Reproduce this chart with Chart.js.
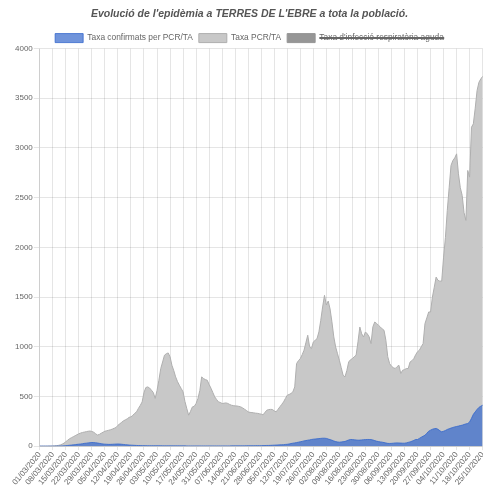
<!DOCTYPE html>
<html>
<head>
<meta charset="utf-8">
<script src="https://cdn.jsdelivr.net/npm/chart.js@4/dist/chart.umd.min.js"></script>
<style>
  html, body { margin: 0; padding: 0; background: #fff; overflow: hidden; }
  #wrap { width: 490px; height: 487px; }
</style>
</head>
<body>
<div id="wrap"><canvas id="grafic" width="490" height="487"></canvas></div>
<script>
// dies: de l'01/03/2020 fins al 25/10/2020
const startDate = '2020-03-01';
const numDays = 239;

// taxa confirmats per PCR/TA (una fila = una setmana)
const confirmats = [
  0, 0, 0, 0, 0, 0, 0,
  0, 0, 1, 1, 2, 2, 3,
  5, 7, 9, 11, 13, 15, 18,
  20, 22, 25, 28, 30, 33, 35,
  37, 36, 34, 32, 28, 25, 22,
  20, 19, 18, 18, 19, 20, 21,
  22, 21, 19, 17, 15, 13, 11,
  10, 9, 8, 7, 6, 6, 5,
  5, 5, 4, 4, 4, 4, 4,
  4, 4, 4, 3, 3, 3, 3,
  3, 3, 3, 3, 3, 3, 3,
  3, 3, 2, 2, 2, 2, 2,
  2, 2, 2, 2, 2, 2, 2,
  2, 2, 2, 2, 2, 2, 2,
  2, 2, 2, 2, 2, 3, 3,
  3, 3, 3, 3, 3, 3, 4,
  4, 4, 4, 4, 5, 5, 5,
  5, 6, 6, 7, 7, 8, 9,
  10, 11, 12, 13, 14, 15, 17,
  19, 22, 26, 30, 33, 36, 40,
  44, 48, 53, 56, 60, 63, 67,
  70, 72, 74, 76, 78, 80, 80,
  78, 72, 66, 60, 52, 46, 42,
  40, 42, 45, 47, 55, 62, 67,
  66, 64, 62, 60, 61, 63, 65,
  66, 67, 67, 66, 62, 56, 50,
  46, 43, 40, 36, 32, 28, 27,
  28, 30, 32, 33, 32, 31, 30,
  30, 33, 38, 43, 50, 58, 67,
  67, 78, 90, 100, 110, 130, 150,
  161, 170, 176, 178, 170, 155, 144,
  150, 158, 168, 175, 182, 188, 194,
  198, 202, 207, 211, 218, 224, 228,
  244, 280, 320, 345, 370, 390, 402,
  412
];

// taxa PCR/TA
const pcrTA = [
  0, 0, 0, 0, 0, 1, 1,
  2, 3, 5, 8, 12, 20, 30,
  45, 60, 75, 85, 95, 105, 115,
  125, 132, 138, 142, 146, 150, 152,
  148, 140, 125, 112, 118, 130, 140,
  150, 155, 160, 165, 172, 180, 188,
  210, 225, 240, 255, 265, 275, 290,
  295, 310, 330, 345, 380, 410, 445,
  540, 590, 596, 585, 563, 540, 480,
  560, 663, 780, 847, 915, 930, 938,
  900, 814, 760, 697, 650, 613, 580,
  546, 450, 379, 312, 350, 395, 400,
  430, 480, 560, 697, 680, 670, 663,
  620, 583, 540, 496, 470, 445, 440,
  429, 432, 435, 430, 420, 412, 408,
  405, 404, 400, 395, 385, 372, 360,
  345, 340, 338, 335, 332, 330, 326,
  322, 315, 340, 362, 368, 370, 369,
  355, 345, 370, 395, 420, 445, 480,
  513, 520, 530, 546, 596, 831, 860,
  881, 920, 965, 1040, 1116, 1000, 982,
  1048, 1065, 1082, 1150, 1266, 1400, 1518,
  1420, 1460, 1380, 1250, 1100, 998, 930,
  864, 790, 714, 697, 760, 847, 870,
  881, 900, 915, 1050, 1199, 1130, 1099,
  1149, 1130, 1100, 1032, 1200, 1249, 1235,
  1216, 1200, 1180, 1166, 1065, 900, 831,
  804, 790, 781, 800, 814, 731, 764,
  770, 781, 781, 847, 860, 881, 920,
  950, 965, 1000, 1032, 1233, 1290, 1350,
  1350, 1500, 1600, 1701, 1668, 1660, 1661,
  1902, 2100, 2372, 2600, 2824, 2874, 2900,
  2941, 2740, 2600, 2523, 2350, 2271, 2774,
  2707, 3209, 3243, 3400, 3578, 3661, 3695,
  3720
];

// taxa d'infecció respiratòria aguda (amagada a la llegenda)
const iras = [];

// etiquetes diàries dd/mm/aaaa
const labels = [];
const d0 = new Date(startDate + 'T12:00:00');
for (let i = 0; i < numDays; i++) {
  const d = new Date(d0.getTime() + i * 86400000);
  const dd = String(d.getDate()).padStart(2, '0');
  const mm = String(d.getMonth() + 1).padStart(2, '0');
  labels.push(`${dd}/${mm}/${d.getFullYear()}`);
}

const fontFam = "'Liberation Sans', Arial, Helvetica, sans-serif";

// la llegenda ocupa una mica menys d'alçada
const legendTrim = {
  id: 'legendTrim',
  beforeInit(chart) {
    const fitOrig = chart.legend.fit;
    chart.legend.fit = function () {
      fitOrig.bind(chart.legend)();
      this.height -= 4;
    };
  }
};

const ctx = document.getElementById('grafic').getContext('2d');
new Chart(ctx, {
  type: 'line',
  data: {
    labels: labels,
    datasets: [
      {
        label: 'Taxa confirmats per PCR/TA',
        data: confirmats,
        backgroundColor: 'rgba(51, 102, 204, 0.7)',
        borderColor: 'rgba(51, 102, 204, 0.8)',
        borderWidth: 1,
        fill: 'origin',
        pointRadius: 0,
        tension: 0
      },
      {
        label: 'Taxa PCR/TA',
        data: pcrTA,
        backgroundColor: 'rgba(200, 200, 200, 1)',
        borderColor: 'rgba(175, 175, 175, 1)',
        borderWidth: 1,
        fill: 'origin',
        pointRadius: 0,
        tension: 0
      },
      {
        label: "Taxa d'infecció respiratòria aguda",
        data: iras,
        backgroundColor: 'rgba(150, 150, 150, 1)',
        borderColor: 'rgba(150, 150, 150, 1)',
        borderWidth: 1,
        fill: 'origin',
        pointRadius: 0,
        hidden: true
      }
    ]
  },
  options: {
    responsive: false,
    animation: false,
    layout: { padding: { left: 14, right: 5, top: 4, bottom: 0 } },
    plugins: {
      title: {
        display: true,
        text: "Evolució de l'epidèmia a TERRES DE L'EBRE a tota la població.",
        color: '#555',
        font: { family: fontFam, size: 10.5, weight: 'bold', style: 'italic' },
        padding: { top: 4, bottom: 7 }
      },
      legend: {
        position: 'top',
        labels: {
          color: '#666',
          font: { family: fontFam, size: 8.4 },
          boxWidth: 28,
          boxHeight: 9,
          padding: 6
        }
      },
      tooltip: { enabled: false }
    },
    scales: {
      x: {
        grid: {
          color: c => (c.index % 7 === 0 ? 'rgba(0,0,0,0.1)' : 'rgba(0,0,0,0)'),
          tickLength: 4
        },
        ticks: {
          autoSkip: false,
          minRotation: 50,
          maxRotation: 50,
          padding: 0,
          color: '#666',
          font: { family: fontFam, size: 8 },
          callback: function (val, i) { return i % 7 === 0 ? labels[i] : ''; }
        }
      },
      y: {
        min: 0,
        max: 4000,
        grid: { color: 'rgba(0,0,0,0.1)', tickLength: 6 },
        ticks: {
          stepSize: 500,
          padding: 1,
          color: '#666',
          font: { family: fontFam, size: 8 },
          callback: v => String(v)
        }
      }
    }
  },
  plugins: [legendTrim]
});
</script>
</body>
</html>
